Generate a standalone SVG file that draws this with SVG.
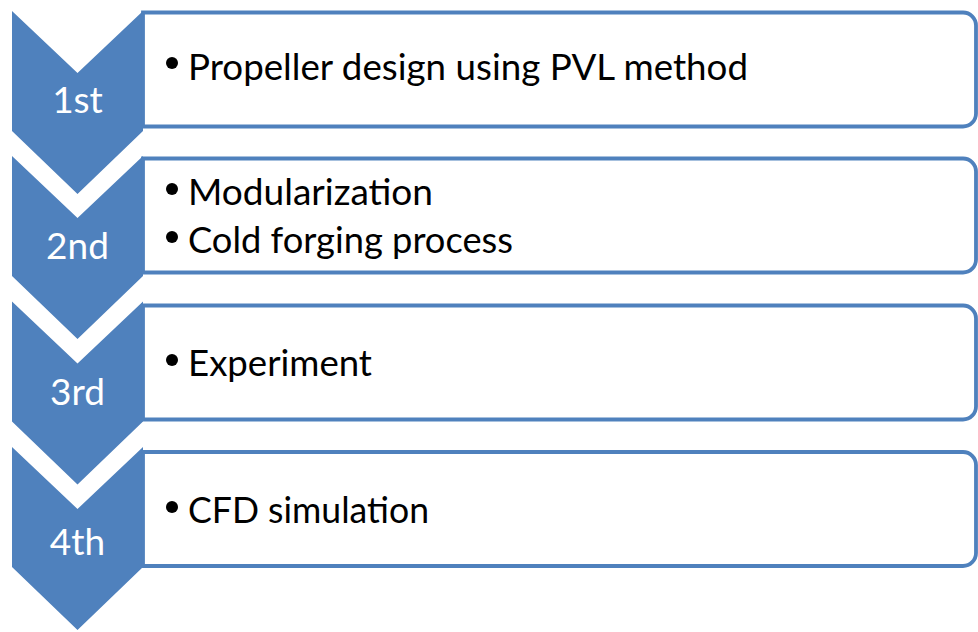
<svg xmlns="http://www.w3.org/2000/svg" width="978" height="632" viewBox="0 0 978 632">
  <style>
    .chev { fill: #4F81BD; }
    .box { fill: #FFFFFF; stroke: #4F81BD; stroke-width: 3.8; stroke-linejoin: miter; }
    .step { font-family: "Lato", "Liberation Sans", sans-serif; font-size: 37px; fill: #FFFFFF; text-anchor: middle; }
    .item { font-family: "Lato", "Liberation Sans", sans-serif; font-size: 37px; fill: #000000; }
    .dot { fill: #000000; }
  </style>
  <defs>
    <!-- downward chevron, 131 wide, notch 62 deep, point 63 below the side edges -->
    <path id="chevron" d="M0,0 L65.5,62 L131,0 L131,120 L65.5,183 L0,120 Z"/>
    <!-- text panel: square on the chevron side, rounded on the far side -->
    <path id="panel" d="M0,0 H820 A13,13 0 0 1 833,13 V101 A13,13 0 0 1 820,114 H0 Z"/>
  </defs>

  <g id="step1">
    <use href="#chevron" class="chev" x="12" y="11"/>
    <use href="#panel" class="box" x="143" y="12.5"/>
    <text class="step" x="77.5" y="113">1st</text>
    <circle class="dot" cx="172" cy="63" r="6"/>
    <text class="item" x="188" y="80" textLength="560" lengthAdjust="spacingAndGlyphs">Propeller design using PVL method</text>
  </g>

  <g id="step2">
    <use href="#chevron" class="chev" x="12" y="156"/>
    <use href="#panel" class="box" x="143" y="158.5"/>
    <text class="step" x="77.5" y="259">2nd</text>
    <circle class="dot" cx="172" cy="189" r="6"/>
    <text class="item" x="188" y="205" textLength="245" lengthAdjust="spacingAndGlyphs">Modularization</text>
    <circle class="dot" cx="172" cy="237" r="6"/>
    <text class="item" x="188" y="253" textLength="325" lengthAdjust="spacingAndGlyphs">Cold forging process</text>
  </g>

  <g id="step3">
    <use href="#chevron" class="chev" x="12" y="301.5"/>
    <use href="#panel" class="box" x="143" y="305.5"/>
    <text class="step" x="77.5" y="405">3rd</text>
    <circle class="dot" cx="172" cy="360" r="6"/>
    <text class="item" x="188" y="376" textLength="184" lengthAdjust="spacingAndGlyphs">Experiment</text>
  </g>

  <g id="step4">
    <use href="#chevron" class="chev" x="12" y="447"/>
    <use href="#panel" class="box" x="143" y="452"/>
    <text class="step" x="77.5" y="555">4th</text>
    <circle class="dot" cx="172" cy="507" r="6"/>
    <text class="item" x="188" y="523" textLength="241" lengthAdjust="spacingAndGlyphs">CFD simulation</text>
  </g>

  <g id="connectors"/>
</svg>
